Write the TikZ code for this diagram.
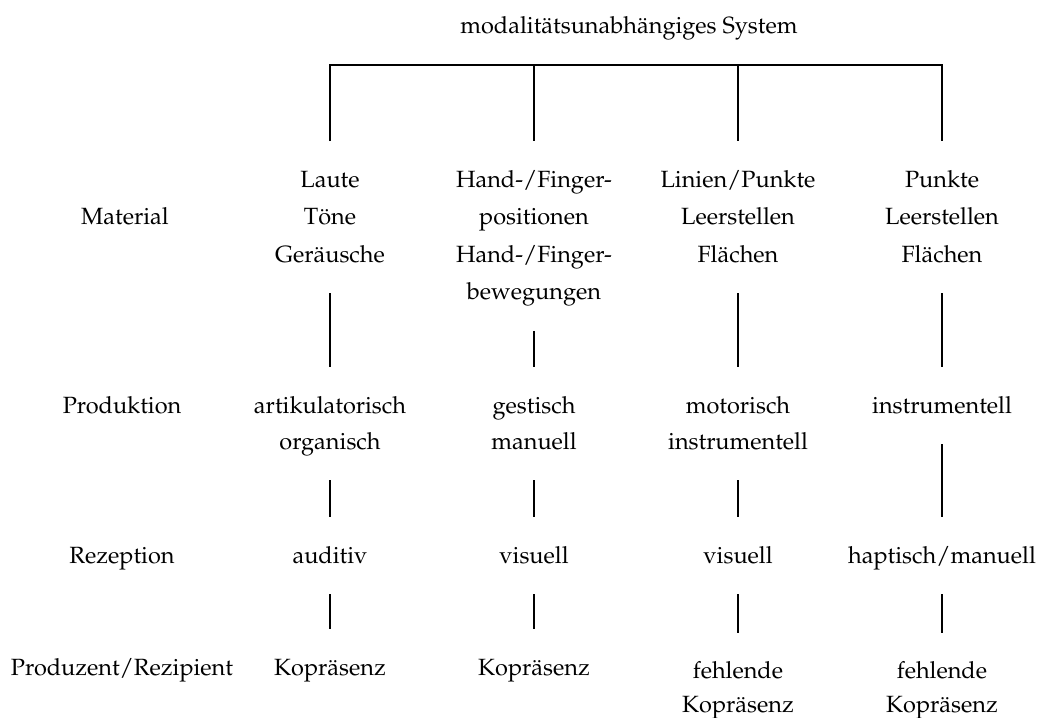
\documentclass[tikz,border=0pt]{standalone}
\usepackage[T1]{fontenc}
\usepackage{mathpazo}
% fixed struts: height above the first baseline, depth below the last one
\newcommand\cellhi{\rule{0pt}{26pt}}
\newcommand\celllo{\rule[-11pt]{0pt}{11pt}}
\begin{document}
\begin{tikzpicture}[x=1pt,y=-1pt,
  cell/.style={align=center, inner sep=0pt, anchor=north,
    font=\fontsize{23.5}{#1}\selectfont},
  cell/.default=37.5,
  link/.style={line width=1.9pt, shorten <=20pt, shorten >=20pt},
]
\useasboundingbox (0,0) rectangle (1040,717);
% height of the top strut
\def\up{26}

% title
\node[cell] (sys) at (629,33-\up) {\cellhi modalit\"atsunabh\"angiges System\celllo};

% row labels
\node[cell] (lm) at (125,224-\up) {\cellhi Material\celllo};
\node[cell] (lp) at (122,413-\up) {\cellhi Produktion\celllo};
\node[cell] (lr) at (122,563-\up) {\cellhi Rezeption\celllo};
\node[cell] (lk) at (122,675-\up) {\cellhi Produzent/Rezipient\celllo};

% material
\node[cell] (m1) at (330,187-\up) {\cellhi Laute\\T\"one\\Ger\"ausche\celllo};
\node[cell] (m2) at (534,187-\up) {\cellhi Hand-/Finger-\\positionen\\Hand-/Finger-\\bewegungen\celllo};
\node[cell] (m3) at (738,187-\up) {\cellhi Linien/Punkte\\Leerstellen\\Fl\"achen\celllo};
\node[cell] (m4) at (942,187-\up) {\cellhi Punkte\\Leerstellen\\Fl\"achen\celllo};

% production
\node[cell=36] (p1) at (330,413-\up) {\cellhi artikulatorisch\\organisch\celllo};
\node[cell=36] (p2) at (534,413-\up) {\cellhi gestisch\\manuell\celllo};
\node[cell=36] (p3) at (738,413-\up) {\cellhi motorisch\\instrumentell\celllo};
\node[cell=36] (p4) at (942,413-\up) {\cellhi instrumentell\celllo};

% reception
\node[cell] (r1) at (330,563-\up) {\cellhi auditiv\celllo};
\node[cell] (r2) at (534,563-\up) {\cellhi visuell\celllo};
\node[cell] (r3) at (738,563-\up) {\cellhi visuell\celllo};
\node[cell] (r4) at (942,563-\up) {\cellhi haptisch/manuell\celllo};

% producer / recipient
\node[cell] (k1) at (330,675-\up) {\cellhi Kopr\"asenz\celllo};
\node[cell] (k2) at (534,675-\up) {\cellhi Kopr\"asenz\celllo};
\node[cell=33.5] (k3) at (738,678.5-\up) {\cellhi fehlende\\Kopr\"asenz\celllo};
\node[cell=33.5] (k4) at (942,678.5-\up) {\cellhi fehlende\\Kopr\"asenz\celllo};

% bracket below the title
\coordinate (b1) at (330,65);
\coordinate (b2) at (534,65);
\coordinate (b3) at (738,65);
\coordinate (b4) at (942,65);
\draw[link] (m1.north) -- (b1) -- (b4) -- (m4.north);
\draw[link, shorten <=0pt] (b2) -- (m2.north);
\draw[link, shorten <=0pt] (b3) -- (m3.north);

% vertical links within each column
\foreach \c in {1,2,3,4} {
  \draw[link] (m\c.south) -- (p\c.north);
  \draw[link] (p\c.south) -- (r\c.north);
  \draw[link] (r\c.south) -- (k\c.north);
}
\end{tikzpicture}
\end{document}
